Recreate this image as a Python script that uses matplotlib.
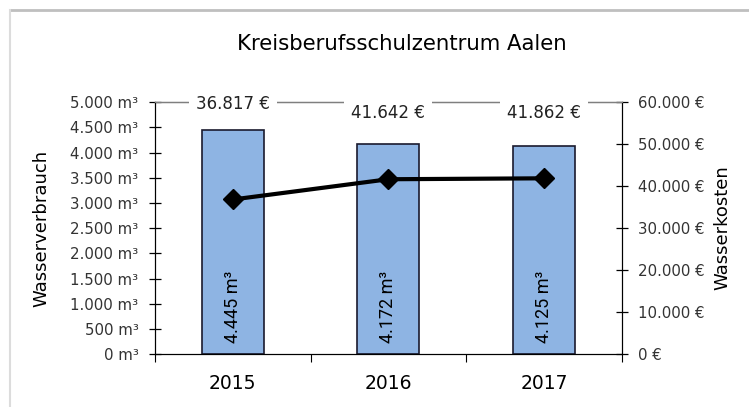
import numpy as np
import matplotlib
matplotlib.use("Agg")
import matplotlib.pyplot as plt
from matplotlib.ticker import FuncFormatter, FixedLocator
from matplotlib.lines import Line2D

years = ["2015", "2016", "2017"]
verbrauch = [4445, 4172, 4125]          # m³
kosten = [36817, 41642, 41862]          # €

def de(v):
    return "{:,.0f}".format(v).replace(",", ".")

font = "DejaVu Sans"
fig = plt.figure(figsize=(7.49, 4.07), dpi=100)
ax = fig.add_axes([0.207, 0.130, 0.623, 0.619])
ax2 = ax.twinx()

x = np.arange(len(years))
ax.bar(x, verbrauch, width=0.4, color="#8EB4E3", edgecolor="#1a1a2e", linewidth=1.2, zorder=2)
ax.set_xlim(-0.5, 2.5)
ax.set_ylim(0, 5000)
ax.yaxis.set_major_locator(FixedLocator(np.arange(0, 5001, 500)))
ax.yaxis.set_major_formatter(FuncFormatter(lambda v, p: de(v) + " m³"))
ax.set_xticks(x)
ax.set_xticklabels(years, fontsize=13.5, family=font)
ax.set_xticks([-0.5, 0.5, 1.5, 2.5], minor=True)
ax.tick_params(axis="x", which="major", length=0, pad=14)
ax.tick_params(axis="x", which="minor", length=6, width=0.8, direction="out")
ax.tick_params(axis="y", length=8, width=0.9, direction="inout", labelsize=10.8, pad=8)
for lab in ax.get_yticklabels():
    lab.set_family(font)
    lab.set_color("#333333")
ax.set_ylabel("Wasserverbrauch", fontsize=13, family=font, labelpad=14)

for s in ["left", "bottom", "right"]:
    ax.spines[s].set_color("black")
ax.spines["top"].set_color("#7f7f7f")
ax.spines["top"].set_linewidth(1.0)

for xi, v in zip(x, verbrauch):
    ax.annotate(de(v) + " m³", xy=(xi, 0), xytext=(0, 8), textcoords="offset points",
                rotation=90, ha="center", va="bottom", fontsize=13, family="Roboto", zorder=3)

ax2.plot(x, kosten, color="black", linewidth=3, marker="D", markersize=10, zorder=4)
ax2.set_ylim(0, 60000)
ax2.yaxis.set_major_locator(FixedLocator(np.arange(0, 60001, 10000)))
ax2.yaxis.set_major_formatter(FuncFormatter(lambda v, p: de(v) + " €"))
ax2.tick_params(axis="y", length=8, width=0.9, direction="inout", labelsize=10.8, pad=8)
for lab in ax2.get_yticklabels():
    lab.set_family(font)
    lab.set_color("#333333")
ax2.set_ylabel("Wasserkosten", fontsize=13, family=font, labelpad=6, rotation=90)
ax2.spines["top"].set_color("#7f7f7f")

label_off = [-1, -8, -8]
for xi, k, off in zip(x, kosten, label_off):
    ax2.annotate(de(k) + " €", xy=(xi, 60000), xytext=(0, off), textcoords="offset points",
                 ha="center", va="center", fontsize=12, family=font, color="#222222",
                 bbox=dict(facecolor="white", edgecolor="none", pad=5), zorder=5)

fig.text(0.537, 0.893, "Kreisberufsschulzentrum Aalen", ha="center", va="center",
         fontsize=15.3, family=font)

fig.add_artist(Line2D([0.013, 1.0], [0.975, 0.975], color="#bfbfbf", linewidth=2, transform=fig.transFigure))
fig.add_artist(Line2D([0.0135, 0.0135], [0.0, 0.975], color="#dcdcdc", linewidth=1.5, transform=fig.transFigure))

fig.savefig("out.png", dpi=100)
